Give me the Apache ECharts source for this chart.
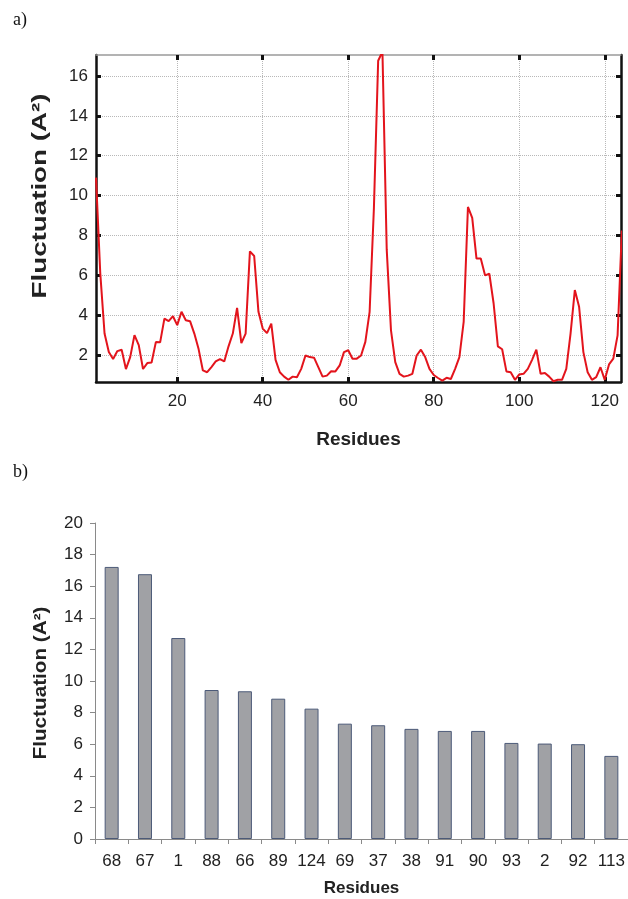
<!DOCTYPE html>
<html>
<head>
<meta charset="utf-8">
<script src="https://cdn.jsdelivr.net/npm/echarts@6/dist/echarts.min.js"></script>
<style>
  html, body { margin: 0; padding: 0; background: #fff; }
  #main { width: 628px; height: 899px; }
</style>
</head>
<body>
<div id="main"></div>
<script>
// panel a: fluctuation per residue (1..124)
const fluct = [
  10.9, 6.1, 3.08, 2.15, 1.8, 2.2, 2.27, 1.3, 1.9, 3.0,
  2.5, 1.3, 1.6, 1.63, 2.65, 2.64, 3.83, 3.7, 3.95, 3.5,
  4.17, 3.75, 3.7, 3.08, 2.3, 1.23, 1.14, 1.4, 1.68, 1.8,
  1.68, 2.44, 3.08, 4.37, 2.6, 3.08, 7.2, 6.97, 4.17, 3.33,
  3.1, 3.58, 1.76, 1.14, 0.92, 0.76, 0.92, 0.89, 1.31, 1.98,
  1.9, 1.87, 1.4, 0.92, 0.97, 1.19, 1.18, 1.48, 2.15, 2.24,
  1.82, 1.82, 1.98, 2.66, 4.17, 9.35, 16.76, 17.22, 7.3, 3.24,
  1.65, 1.06, 0.92, 0.97, 1.06, 1.98, 2.27, 1.9, 1.31, 1.0,
  0.85, 0.72, 0.86, 0.8, 1.31, 1.9, 3.66, 9.43, 8.88, 6.84,
  6.84, 6.0, 6.08, 4.6, 2.44, 2.29, 1.18, 1.14, 0.76, 1.03,
  1.06, 1.31, 1.76, 2.27, 1.06, 1.1, 0.92, 0.69, 0.76, 0.76,
  1.31, 3.08, 5.26, 4.42, 2.15, 1.14, 0.76, 0.89, 1.39, 0.76,
  1.53, 1.82, 2.99, 8.25
];
const xTicksA = [20, 40, 60, 80, 100, 120];
const yTicksA = [2, 4, 6, 8, 10, 12, 14, 16];

// panel b: top residues
const topResidues = ['68', '67', '1', '88', '66', '89', '124', '69', '37', '38', '91', '90', '93', '2', '92', '113'];
const topValues = [17.22, 16.76, 12.72, 9.43, 9.35, 8.88, 8.25, 7.3, 7.2, 6.97, 6.84, 6.84, 6.08, 6.04, 6.0, 5.26];

const linePts = fluct.map((v, i) => [i + 1, v]);

const chart = echarts.init(document.getElementById('main'), null, { renderer: 'canvas' });

const FONT = 'Liberation Sans';
const blackLine = { show: true, lineStyle: { color: '#111', width: 2.5 } };
const inTick = (vals) => ({ show: true, inside: true, length: 5, customValues: vals, lineStyle: { color: '#111', width: 3 } });
const dotted = { show: true, lineStyle: { color: '#b8b8b8', type: 'dotted', width: 1 } };

// y titles are drawn a bit stretched in the original, so use graphic text
const yTitle = (x, y, size, stretch) => ({
  type: 'text', x: x, y: y, rotation: Math.PI / 2, scaleX: stretch, scaleY: 1,
  style: {
    text: 'Fluctuation (A²)', fontFamily: FONT, fontSize: size, fontWeight: 'bold',
    fill: '#222', align: 'center', verticalAlign: 'middle'
  }
});

const option = {
  backgroundColor: '#ffffff',
  animation: false,
  title: [
    { text: 'a)', left: 8, top: 6, textStyle: { fontFamily: 'Liberation Serif', fontSize: 18, fontWeight: 'normal', color: '#111' } },
    { text: 'b)', left: 8, top: 458, textStyle: { fontFamily: 'Liberation Serif', fontSize: 18, fontWeight: 'normal', color: '#111' } }
  ],
  graphic: [
    yTitle(40, 196, 21, 1.32),
    yTitle(41, 683, 18, 1.15)
  ],
  grid: [
    { left: 96, top: 55, width: 525, height: 327 },
    { left: 95, top: 523, right: 0, height: 316 }
  ],
  xAxis: [
    {
      gridIndex: 0, type: 'value', min: 1, max: 123.8, position: 'bottom',
      axisLine: blackLine,
      axisTick: inTick(xTicksA),
      axisLabel: { customValues: xTicksA, fontFamily: FONT, fontSize: 17, color: '#222', margin: 11 },
      splitLine: dotted,
      name: 'Residues', nameLocation: 'middle', nameGap: 48,
      nameTextStyle: { fontFamily: FONT, fontSize: 19, fontWeight: 'bold', color: '#222' }
    },
    {
      gridIndex: 0, type: 'value', min: 1, max: 123.8, position: 'top',
      axisLine: { show: true, lineStyle: { color: '#9a9a9a', width: 1.5 } },
      axisTick: inTick(xTicksA),
      axisLabel: { show: false },
      splitLine: { show: false }
    },
    {
      gridIndex: 1, type: 'category', data: topResidues, boundaryGap: true,
      axisLine: { show: true, lineStyle: { color: '#8a8a8a', width: 1 } },
      axisTick: { show: true, length: 5, lineStyle: { color: '#8a8a8a' } },
      axisLabel: { fontFamily: FONT, fontSize: 17, color: '#222', margin: 14, interval: 0 },
      name: 'Residues', nameLocation: 'middle', nameGap: 41,
      nameTextStyle: { fontFamily: FONT, fontSize: 17, fontWeight: 'bold', color: '#222' }
    }
  ],
  yAxis: [
    {
      gridIndex: 0, type: 'value', min: 0.65, max: 17.05, position: 'left',
      axisLine: blackLine,
      axisTick: inTick(yTicksA),
      axisLabel: { customValues: yTicksA, fontFamily: FONT, fontSize: 17, color: '#222', margin: 8 },
      splitLine: dotted
    },
    {
      gridIndex: 0, type: 'value', min: 0.65, max: 17.05, position: 'right',
      axisLine: blackLine,
      axisTick: inTick(yTicksA),
      axisLabel: { show: false },
      splitLine: { show: false }
    },
    {
      gridIndex: 1, type: 'value', min: 0, max: 20, interval: 2,
      axisLine: { show: true, lineStyle: { color: '#8a8a8a', width: 1 } },
      axisTick: { show: true, length: 5, lineStyle: { color: '#8a8a8a' } },
      axisLabel: { fontFamily: FONT, fontSize: 17, color: '#222', margin: 12 },
      splitLine: { show: false }
    }
  ],
  series: [
    {
      type: 'line', xAxisIndex: 0, yAxisIndex: 0, data: linePts,
      showSymbol: false, clip: true,
      lineStyle: { color: '#e3141c', width: 2 }
    },
    {
      type: 'bar', xAxisIndex: 2, yAxisIndex: 2, data: topValues,
      barWidth: 14,
      itemStyle: { color: '#a0a1a5', borderColor: '#4c5a78', borderWidth: 1 }
    }
  ]
};

chart.setOption(option);
</script>
</body>
</html>
